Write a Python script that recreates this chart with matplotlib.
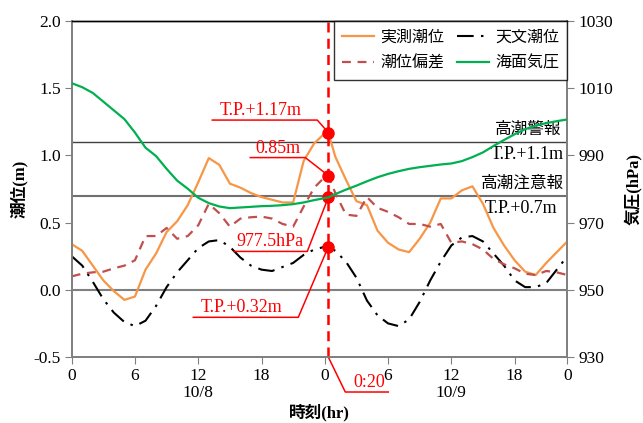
import matplotlib.pyplot as plt
from matplotlib.transforms import blended_transform_factory

# time axis (hours from 10/8 0:00), with the 0:20 peak sample inserted
EVENT_T = 24 + 20 / 60
TIME = list(range(0, 25)) + [EVENT_T] + list(range(25, 48))

OBSERVED = [0.34, 0.29, 0.18, 0.07, -0.01, -0.075, -0.05, 0.15, 0.27, 0.43, 0.51, 0.63,
            0.80, 0.98, 0.93, 0.79, 0.76, 0.72, 0.69, 0.67, 0.65, 0.65, 0.96, 1.09, 1.165,
            1.17,
            0.99, 0.82, 0.66, 0.63, 0.44, 0.35, 0.30, 0.28, 0.38, 0.50, 0.68, 0.68, 0.74,
            0.77, 0.64, 0.46, 0.33, 0.22, 0.135, 0.11, 0.20, 0.28, 0.36]
ASTRO = [0.25, 0.18, 0.06, -0.07, -0.17, -0.24, -0.27, -0.23, -0.12, 0.02, 0.13, 0.22,
         0.31, 0.36, 0.37, 0.32, 0.24, 0.18, 0.15, 0.14, 0.17, 0.20, 0.26, 0.30, 0.32,
         0.32,
         0.29, 0.21, 0.09, -0.08, -0.19, -0.25, -0.27, -0.22, -0.09, 0.07, 0.21, 0.33,
         0.39, 0.40, 0.36, 0.27, 0.18, 0.07, 0.02, 0.02, 0.05, 0.15, 0.25]
SURGE = [0.10, 0.12, 0.13, 0.135, 0.16, 0.18, 0.22, 0.40, 0.40, 0.46, 0.38, 0.40,
         0.48, 0.64, 0.57, 0.47, 0.53, 0.54, 0.545, 0.53, 0.49, 0.47, 0.62, 0.76, 0.84,
         0.85,
         0.72, 0.56, 0.55, 0.69, 0.61, 0.58, 0.54, 0.49, 0.49, 0.47, 0.49, 0.35, 0.36,
         0.34, 0.30, 0.23, 0.19, 0.16, 0.12, 0.11, 0.14, 0.13, 0.11]
PRESSURE = [1011.5, 1010.3, 1008.6, 1006.0, 1003.4, 1000.8, 996.8, 992.3, 989.8, 986.0,
            982.5, 980.1, 977.4, 975.8, 974.8, 974.3, 974.5, 974.7, 974.9, 975.0, 975.2,
            975.5, 976.0, 976.7, 977.3,
            977.5,
            978.5, 979.8, 981.0, 982.3, 983.5, 984.5, 985.3, 986.0, 986.5, 986.9, 987.3,
            987.6, 988.3, 989.5, 990.9, 992.8, 994.6, 996.3, 997.8, 998.9, 999.6, 1000.2,
            1000.7]

XTICKS = [0, 6, 12, 18, 24, 30, 36, 42, 47]
XTICK_LABELS = ["0", "6", "12", "18", "0", "6", "12", "18", "0"]
DAYS = [(12, "10/8"), (36, "10/9")]
WARNING_LEVEL = 1.1
ADVISORY_LEVEL = 0.7

PEAK_OBS = 1.17
PEAK_SURGE = 0.85
PEAK_PRES = 977.5
PEAK_ASTRO = 0.32

SERIF = ["Liberation Serif", "Noto Sans CJK JP"]
JP = ["Noto Sans CJK JP", "Liberation Serif"]
RED = "#FF0000"
FS = 12.5

plt.rcParams["font.family"] = SERIF

fig = plt.figure(figsize=(6.43, 4.23), dpi=100)
ax = fig.add_axes([0.1115, 0.156, 0.7708, 0.7943])
ax2 = ax.twinx()

# reference levels
ax.axhline(WARNING_LEVEL, color="#404040", lw=1.0, zorder=1)
ax.axhline(ADVISORY_LEVEL, color="#707070", lw=1.5, zorder=1)
ax.axhline(0.0, color="#808080", lw=1.5, zorder=1)

l_obs, = ax.plot(TIME, OBSERVED, color="#F79646", lw=1.6, label="実測潮位", zorder=3)
l_ast, = ax.plot(TIME, ASTRO, color="black", lw=1.5, dashes=(8, 3.5, 1.2, 3.5),
                 label="天文潮位", zorder=3)
l_sur, = ax.plot(TIME, SURGE, color="#C0504D", lw=1.6, dashes=(4, 3),
                 label="潮位偏差", zorder=3)
l_pre, = ax2.plot(TIME, PRESSURE, color="#00B050", lw=1.6, label="海面気圧", zorder=3)

ax.set_xlim(0, 47)
ax.set_ylim(-0.5, 2.0)
ax.set_yticks([-0.5, 0.0, 0.5, 1.0, 1.5, 2.0])
ax.set_yticklabels([f"{v:.1f}" for v in [-0.5, 0.0, 0.5, 1.0, 1.5, 2.0]])
ax.set_xticks(XTICKS)
ax.set_xticklabels(XTICK_LABELS)
ax2.set_ylim(930, 1030)
ax2.set_yticks([930, 950, 970, 990, 1010, 1030])

for a in (ax, ax2):
    for s in a.spines.values():
        s.set_color("#808080")
        s.set_linewidth(1.3)
    a.spines["top"].set_color("black")
    a.spines["top"].set_linewidth(1.0)
    a.tick_params(direction="out", length=5, color="#808080", labelsize=FS, pad=3)

ax.set_ylabel("潮位(m)", family=SERIF, fontweight="bold", fontsize=12, labelpad=4)
ax2.set_ylabel("気圧(hPa)", family=SERIF, fontweight="bold", fontsize=12, labelpad=8)
ax.set_xlabel("時刻(hr)", family=SERIF, fontweight="bold", fontsize=12)
ax.xaxis.set_label_coords(0.5, -0.165)
ax.xaxis.label.set_va("center")

trans_day = blended_transform_factory(ax.transData, ax.transAxes)
for x, lab in DAYS:
    ax.text(x, -0.107, lab, transform=trans_day, ha="center", va="center", fontsize=FS)

# threshold labels
trans_r = blended_transform_factory(ax.transAxes, ax.transData)
ax.text(0.988, WARNING_LEVEL + 0.03, "高潮警報", transform=trans_r, ha="right",
        va="bottom", family=JP, fontsize=12)
ax.text(0.993, WARNING_LEVEL - 0.03, "T.P.+1.1m", transform=trans_r, ha="right",
        va="top", fontsize=13)
ax.text(0.993, ADVISORY_LEVEL + 0.03, "高潮注意報", transform=trans_r, ha="right",
        va="bottom", family=JP, fontsize=12)
ax.text(0.980, ADVISORY_LEVEL - 0.03, "T.P.+0.7m", transform=trans_r, ha="right",
        va="top", fontsize=13)

# event line
ax.axvline(EVENT_T, color=RED, lw=1.8, dashes=(4, 2.5), zorder=4)
pres_as_m = (PEAK_PRES - 930) / 100 * 2.5 - 0.5
points = [(PEAK_OBS, "T.P.+1.17m", -116, -11, -12.5, -68),
          (PEAK_SURGE, "0.85m", -78, -23, -18, -50),
          (pres_as_m, "977.5hPa", -94, -21, 54, -58),
          (PEAK_ASTRO, "T.P.+0.32m", -135, -30, 70.5, -87)]
inv = ax.transData.inverted()
for yv, text, x0, x1, dy, xc in points:
    ax.plot([EVENT_T], [yv], "o", color=RED, ms=8, zorder=6, clip_on=False)
    # offsets are in pixels from the marker
    base = ax.transData.transform((EVENT_T, yv))
    p_a = inv.transform((base[0] + x1, base[1] - dy))
    p_b = inv.transform((base[0] + x0, base[1] - dy))
    ax.plot([EVENT_T, p_a[0], p_b[0]], [yv, p_a[1], p_b[1]], color=RED,
            lw=1.1, zorder=5, clip_on=False)
    p_t = inv.transform((base[0] + xc, base[1] - dy + 1))
    ax.text(p_t[0], p_t[1], text, color=RED, ha="center", va="bottom", fontsize=13,
            zorder=6)

# 0:20 label below axis
bot = ax.transData.transform((EVENT_T, -0.5))
q1 = inv.transform((bot[0] + 17, bot[1] - 35))
q2 = inv.transform((bot[0] + 60, bot[1] - 35))
ax.plot([EVENT_T, q1[0], q2[0]], [-0.5, q1[1], q2[1]], color=RED, lw=1.1,
        clip_on=False, zorder=5)
qt = inv.transform((bot[0] + 41, bot[1] - 34))
ax.text(qt[0], qt[1], "0:20", color=RED, ha="center", va="bottom", fontsize=13)

leg = ax2.legend([l_obs, l_sur, l_ast, l_pre], ["実測潮位", "潮位偏差", "天文潮位", "海面気圧"],
                 ncol=2, loc="upper right", borderaxespad=0, frameon=True, fancybox=False,
                 prop={"family": JP, "size": 11.5}, handlelength=2.0, columnspacing=0.8,
                 labelspacing=0.55, borderpad=0.5, handletextpad=0.4)
leg.get_frame().set_edgecolor("black")
leg.get_frame().set_linewidth(1.0)
leg.set_zorder(10)

fig.savefig("out.png", dpi=100)
